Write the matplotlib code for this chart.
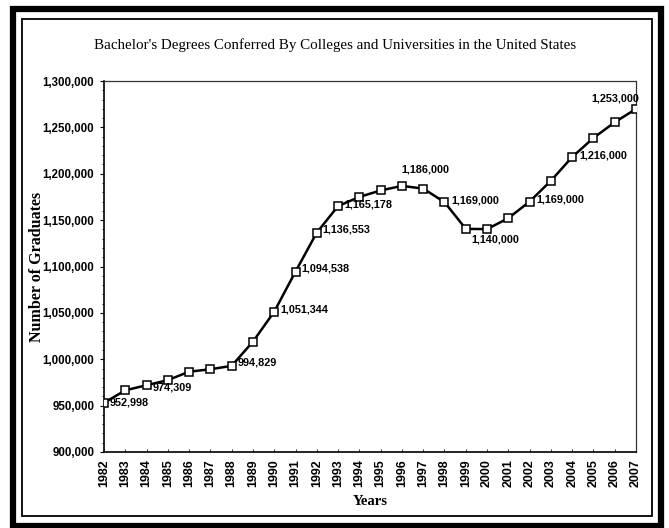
import matplotlib.pyplot as plt
from matplotlib.patches import Rectangle
from matplotlib.ticker import FuncFormatter, MultipleLocator

# data
years = list(range(1982, 2008))
graduates = [952998, 966500, 972000, 977500, 986600, 989200, 992900, 1019000,
             1051344, 1094538, 1136553, 1165178, 1175000, 1182000, 1186900,
             1184000, 1169400, 1140600, 1140300, 1152100, 1170000, 1192400,
             1218000, 1238600, 1255500, 1269900]

# printed labels: (year, text, x offset px, y offset px, ha, va)
label_years = [1982, 1984, 1988, 1990, 1991, 1992, 1993, 1996, 1998, 2000,
               2002, 2004, 2007]
label_texts = ["952,998", "974,309", "994,829", "1,051,344", "1,094,538",
               "1,136,553", "1,165,178", "1,186,000", "1,169,000", "1,140,000",
               "1,169,000", "1,216,000", "1,253,000"]
label_offsets = [(6, 0, "left", "center"), (6, -2, "left", "center"),
                 (6, 3, "left", "center"), (6, 2, "left", "center"),
                 (6, 3, "left", "center"), (6, 3, "left", "center"),
                 (6, 2, "left", "center"), (23, 11, "center", "bottom"),
                 (7, 2, "left", "center"), (8, -5, "center", "top"),
                 (7, 2, "left", "center"), (7, 2, "left", "center"),
                 (3, 5, "right", "bottom")]

title = "Bachelor's Degrees Conferred By Colleges and Universities in the United States"

fig = plt.figure(figsize=(6.69, 5.28), dpi=100)
ax = fig.add_axes([104 / 669, 1 - 452 / 528, 532 / 669, 371 / 528])

ax.plot(years, graduates, color="black", lw=1.8, marker="s", ms=5.5,
        mfc="white", mec="black", mew=1.1, zorder=3)

lab_font = dict(family="Liberation Sans", weight="bold", size=7.8)
for yr, txt, (dx, dy, ha, va) in zip(label_years, label_texts, label_offsets):
    val = graduates[years.index(yr)]
    ax.annotate(txt, (yr, val), xytext=(dx * 0.72, dy * 0.72),
                textcoords="offset points", ha=ha, va=va, **lab_font)

ax.set_xlim(1982, 2007)
ax.set_ylim(900000, 1300000)
ax.set_xticks(years)
ax.set_xticklabels([str(y) for y in years], rotation=90,
                   family="Liberation Sans", weight="bold", size=9)
ax.yaxis.set_major_locator(MultipleLocator(50000))
ax.yaxis.set_minor_locator(MultipleLocator(10000))
ax.yaxis.set_major_formatter(FuncFormatter(lambda v, p: f"{int(v):,}"))
for t in ax.get_yticklabels():
    t.set_family("Liberation Sans")
    t.set_weight("bold")
    t.set_size(8.3)
ax.tick_params(axis="y", which="major", length=3, width=0.8, pad=4)
ax.tick_params(axis="y", which="minor", length=1.5, width=0.6)
ax.tick_params(axis="x", direction="in", length=2, width=0.6, pad=5)

for s in ["left", "bottom"]:
    ax.spines[s].set_linewidth(1.2)
for s in ["top", "right"]:
    ax.spines[s].set_linestyle((0, (1, 1)))
    ax.spines[s].set_linewidth(0.9)
    ax.spines[s].set_color("#333333")

ax.set_ylabel("Number of Graduates", family="Liberation Serif",
              weight="bold", size=11.5, va="center")
ax.yaxis.set_label_coords(-67 / 532, 0.5)
ax.set_xlabel("Years", family="Liberation Serif", weight="bold", size=10.5,
              labelpad=6)
fig.text(335 / 669, 1 - 45 / 528, title, family="Liberation Serif",
         size=10.8, ha="center", va="center")

# frames around the whole chart
fig.patches.append(Rectangle((13 / 669, 2 / 528), 648 / 669, 517 / 528,
                             transform=fig.transFigure, fill=False,
                             lw=4.5, ec="black"))
fig.patches.append(Rectangle((22 / 669, 12 / 528), 630 / 669, 497 / 528,
                             transform=fig.transFigure, fill=False,
                             lw=1.3, ec="black"))

fig.savefig("out.png", dpi=100)
